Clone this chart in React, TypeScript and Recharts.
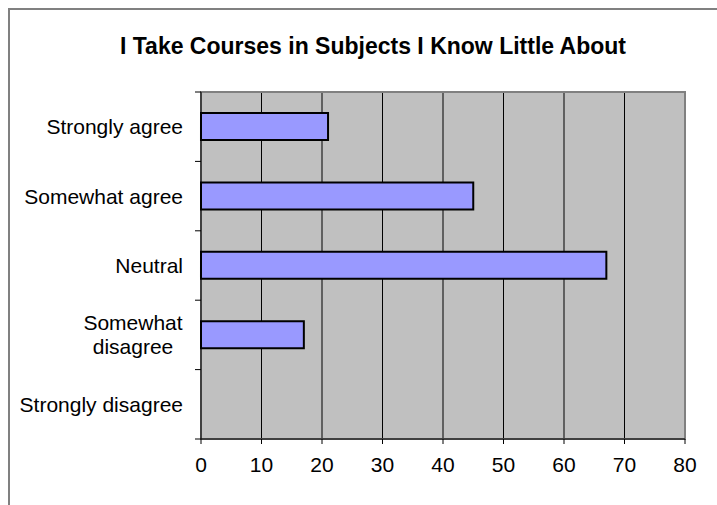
import React from "react"
import {
  Bar,
  BarChart,
  CartesianGrid,
  ReferenceArea,
  XAxis,
  YAxis
} from "recharts"

const categories = [
  "Strongly agree",
  "Somewhat agree",
  "Neutral",
  "Somewhat disagree",
  "Strongly disagree"
]

// how many said so
const responses = [21, 45, 67, 17, 0]

const xTicks = [0, 10, 20, 30, 40, 50, 60, 70, 80]

// labels that Excel wrapped onto two lines
const wrapped: Record<string, string[]> = {
  "Somewhat disagree": ["Somewhat", "disagree"]
}

const font = "'Liberation Sans', Arial, sans-serif"

const data = categories.map((name, i) => ({
  name,
  responses: responses[i]
}))

function CategoryTick(props: any) {
  const { x, y, payload, index } = props
  const half = payload?.offset ?? 0
  const lines = wrapped[payload.value]
  return (
    <g>
      {/* ticks sit between the categories, not on them */}
      <line x1={x + 12} x2={x + 18} y1={y - half} y2={y - half} stroke="#000" />
      {index === categories.length - 1 && (
        <line x1={x + 12} x2={x + 18} y1={y + half} y2={y + half} stroke="#000" />
      )}
      {lines ? (
        lines.map((line, i) => (
          <text
            key={line}
            x={x - 50}
            y={y + (i - (lines.length - 1) / 2) * 24 + 7.5}
            textAnchor="middle"
            fontSize={21}
            fontFamily={font}
            fill="#000">
            {line}
          </text>
        ))
      ) : (
        <text
          x={x}
          y={y + 7.5}
          textAnchor="end"
          fontSize={21}
          fontFamily={font}
          fill="#000">
          {payload.value}
        </text>
      )}
    </g>
  )
}

export default function App() {
  return (
    <div
      style={{
        position: "absolute",
        left: 0,
        top: 0,
        width: 717,
        height: 505,
        overflow: "hidden",
        background: "#fff"
      }}>
      <div
        style={{
          position: "absolute",
          left: 8,
          top: 8,
          width: 740,
          height: 540,
          border: "2px solid #808080"
        }}
      />
      <svg
        width={717}
        height={80}
        style={{ position: "absolute", left: 0, top: 0 }}>
        <text
          x={373}
          y={54}
          textAnchor="middle"
          fontSize={23}
          fontWeight="bold"
          fontFamily={font}
          fill="#000">
          I Take Courses in Subjects I Know Little About
        </text>
      </svg>
      <div style={{ position: "absolute", left: 0, top: 0 }}>
        <BarChart
          width={717}
          height={505}
          data={data}
          layout="vertical"
          barSize={27}
          margin={{ top: 92, right: 32, left: 0, bottom: 26 }}>
          <CartesianGrid
            horizontal={false}
            stroke="#000"
            fill="#C0C0C0"
            fillOpacity={1}
          />
          <ReferenceArea
            x1={0}
            x2={80}
            fill="none"
            stroke="#808080"
            strokeWidth={2}
          />
          <XAxis
            type="number"
            domain={[0, 80]}
            ticks={xTicks}
            interval={0}
            height={40}
            tickSize={5}
            tickMargin={13}
            stroke="#000"
            tick={{ fontSize: 21, fontFamily: font, fill: "#000" }}
          />
          <YAxis
            type="category"
            dataKey="name"
            width={201}
            tickSize={6}
            tickMargin={12}
            tickLine={false}
            interval={0}
            stroke="#000"
            tick={<CategoryTick />}
          />
          <Bar
            dataKey="responses"
            fill="#9999FF"
            stroke="#000"
            strokeWidth={2}
            isAnimationActive={false}
          />
        </BarChart>
      </div>
    </div>
  )
}
